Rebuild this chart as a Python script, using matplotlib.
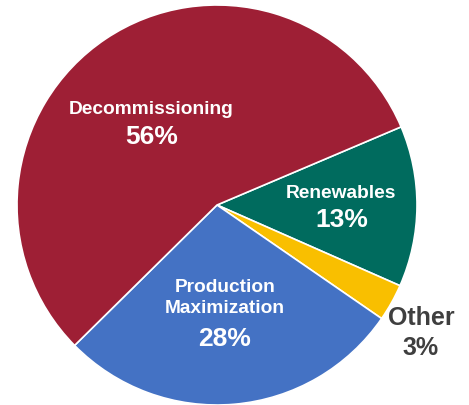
import matplotlib
matplotlib.use("Agg")
import matplotlib.pyplot as plt

# Data (clockwise from the upper right)
categories = ["Renewables", "Other", "Production\nMaximization", "Decommissioning"]
shares = [13, 3, 28, 56]
colors = ["#006B5E", "#F9BF00", "#4472C4", "#9E1F35"]

# label anchor positions (name, percent) in axes data units
name_pos = [(0.62, 0.055), (1.02, -0.565), (0.04, -0.465), (-0.33, 0.475)]
pct_pos = [(0.625, -0.075), (1.02, -0.715), (0.04, -0.67), (-0.325, 0.34)]
text_colors = ["white", "#3F3F3F", "white", "white"]
name_sizes = [13.8, 18, 13.8, 13.8]
pct_sizes = [19, 18, 19, 19]

plt.rcParams["font.family"] = ["Liberation Sans", "DejaVu Sans"]

fig = plt.figure(figsize=(4.69, 4.05), dpi=100)
ax = fig.add_axes([17 / 469, 0, 400 / 469, 400 / 405])

ax.pie(shares, colors=colors, startangle=23, counterclock=False,
       wedgeprops=dict(edgecolor="white", linewidth=1.2))

for cat, val, npos, ppos, tc, ns, ps in zip(categories, shares, name_pos, pct_pos,
                                            text_colors, name_sizes, pct_sizes):
    ax.text(npos[0], npos[1], cat, ha="center", va="center", color=tc,
            fontsize=ns, fontweight="bold", linespacing=1.38)
    ax.text(ppos[0], ppos[1], f"{val}%", ha="center", va="center", color=tc,
            fontsize=ps, fontweight="bold")

ax.set_xlim(-1.0, 1.0)
ax.set_ylim(-1.0, 1.0)
ax.set_aspect("equal")
ax.axis("off")

fig.savefig("out.png", dpi=100)
